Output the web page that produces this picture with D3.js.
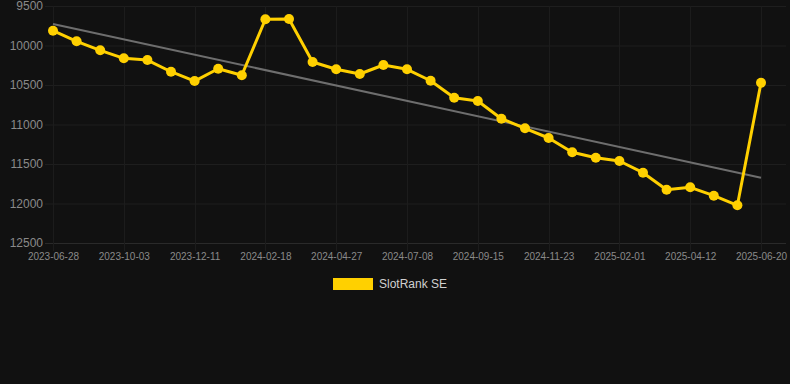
<!DOCTYPE html>
<html>
<head>
<meta charset="utf-8">
<script src="https://cdn.jsdelivr.net/npm/d3@7"></script>
<style>
  html, body { margin: 0; padding: 0; background: #111111; }
  svg { display: block; }
</style>
</head>
<body>
<svg id="viz" width="790" height="384"></svg>
<script>
// categories (one per sample, labels shown every 3rd)
const dates = [
  "2023-06-28", "2023-07-30", "2023-08-31", "2023-10-03", "2023-10-26", "2023-11-18",
  "2023-12-11", "2024-01-03", "2024-01-26", "2024-02-18", "2024-03-12", "2024-04-04",
  "2024-04-27", "2024-05-21", "2024-06-14", "2024-07-08", "2024-07-31", "2024-08-23",
  "2024-09-15", "2024-10-08", "2024-10-31", "2024-11-23", "2024-12-16", "2025-01-09",
  "2025-02-01", "2025-02-24", "2025-03-19", "2025-04-12", "2025-05-05", "2025-05-28",
  "2025-06-20"
];

// rank values (lower is better, axis reversed)
const ranks = [
  9813, 9947, 10061, 10162, 10184, 10332, 10450, 10294, 10377, 9668, 9665,
  10209, 10301, 10361, 10247, 10301, 10446, 10661, 10703, 10927, 11048,
  11171, 11352, 11420, 11462, 11610, 11825, 11795, 11901, 12023, 10471
];

// trend line start / end values
const trend = [9728, 11673];

const yTicks = [9500, 10000, 10500, 11000, 11500, 12000, 12500];
const seriesName = "SlotRank SE";

let svg = d3.select("#viz");

let margin = { top: 6, right: 29, bottom: 141, left: 53 };
let w = parseInt(svg.attr("width")) - margin.left - margin.right;
let h = parseInt(svg.attr("height")) - margin.top - margin.bottom;

let x = d3.scalePoint()
    .domain(dates)
    .range([margin.left, margin.left + w]);

let y = d3.scaleLinear()
    .domain([9500, 12500])
    .range([margin.top, margin.top + h]);

// horizontal grid
svg.append("g")
    .selectAll("line")
    .data(yTicks)
    .join("line")
    .attr("x1", margin.left - 8)
    .attr("x2", 786)
    .attr("y1", d => y(d) + 0.5)
    .attr("y2", d => y(d) + 0.5)
    .attr("stroke", d => d === 12500 ? "#2a2a2a" : "#1e1e1e")
    .attr("stroke-width", 1);

// vertical grid at labelled categories
let labelled = dates.filter((d, i) => i % 3 === 0);
svg.append("g")
    .selectAll("line")
    .data(labelled)
    .join("line")
    .attr("x1", d => Math.round(x(d)) + 0.5)
    .attr("x2", d => Math.round(x(d)) + 0.5)
    .attr("y1", margin.top)
    .attr("y2", margin.top + h + 8)
    .attr("stroke", "#1c1c1c")
    .attr("stroke-width", 1);

// y axis labels
let yAxis = d3.axisLeft(y).tickValues(yTicks).tickSize(0).tickPadding(0).tickFormat(d3.format("d"));
svg.append("g")
    .attr("transform", `translate(${margin.left - 10},0)`)
    .call(yAxis)
    .call(g => g.select(".domain").remove())
    .selectAll("text")
    .attr("fill", "#8a8a8a")
    .style("font-family", "Arial, 'Liberation Sans', sans-serif")
    .style("font-size", "12px");

// x axis labels
let xAxis = d3.axisBottom(x).tickValues(labelled).tickSize(0).tickPadding(0);
svg.append("g")
    .attr("transform", `translate(0,${margin.top + h + 10})`)
    .call(xAxis)
    .call(g => g.select(".domain").remove())
    .selectAll("text")
    .attr("fill", "#8a8a8a")
    .style("font-family", "Arial, 'Liberation Sans', sans-serif")
    .style("font-size", "10px");

// trend line
svg.append("line")
    .attr("x1", x(dates[0]))
    .attr("x2", x(dates[dates.length - 1]))
    .attr("y1", y(trend[0]))
    .attr("y2", y(trend[1]))
    .attr("stroke", "#6e6e6e")
    .attr("stroke-width", 2);

// series line
let line = d3.line()
    .x((d, i) => x(dates[i]))
    .y(d => y(d));

svg.append("path")
    .datum(ranks)
    .attr("d", line)
    .attr("fill", "none")
    .attr("stroke", "#ffd000")
    .attr("stroke-width", 3)
    .attr("stroke-linejoin", "round");

svg.append("g")
    .selectAll("circle")
    .data(ranks)
    .join("circle")
    .attr("cx", (d, i) => x(dates[i]))
    .attr("cy", d => y(d))
    .attr("r", 5)
    .attr("fill", "#ffd000");

// legend
let legend = svg.append("g").attr("transform", "translate(333,278)");
legend.append("rect")
    .attr("width", 40)
    .attr("height", 12)
    .attr("fill", "#ffd000");
legend.append("text")
    .attr("x", 46)
    .attr("y", 6)
    .attr("dy", "0.35em")
    .attr("fill", "#d0d0d0")
    .style("font-family", "Arial, 'Liberation Sans', sans-serif")
    .style("font-size", "12px")
    .text(seriesName);
</script>
</body>
</html>
